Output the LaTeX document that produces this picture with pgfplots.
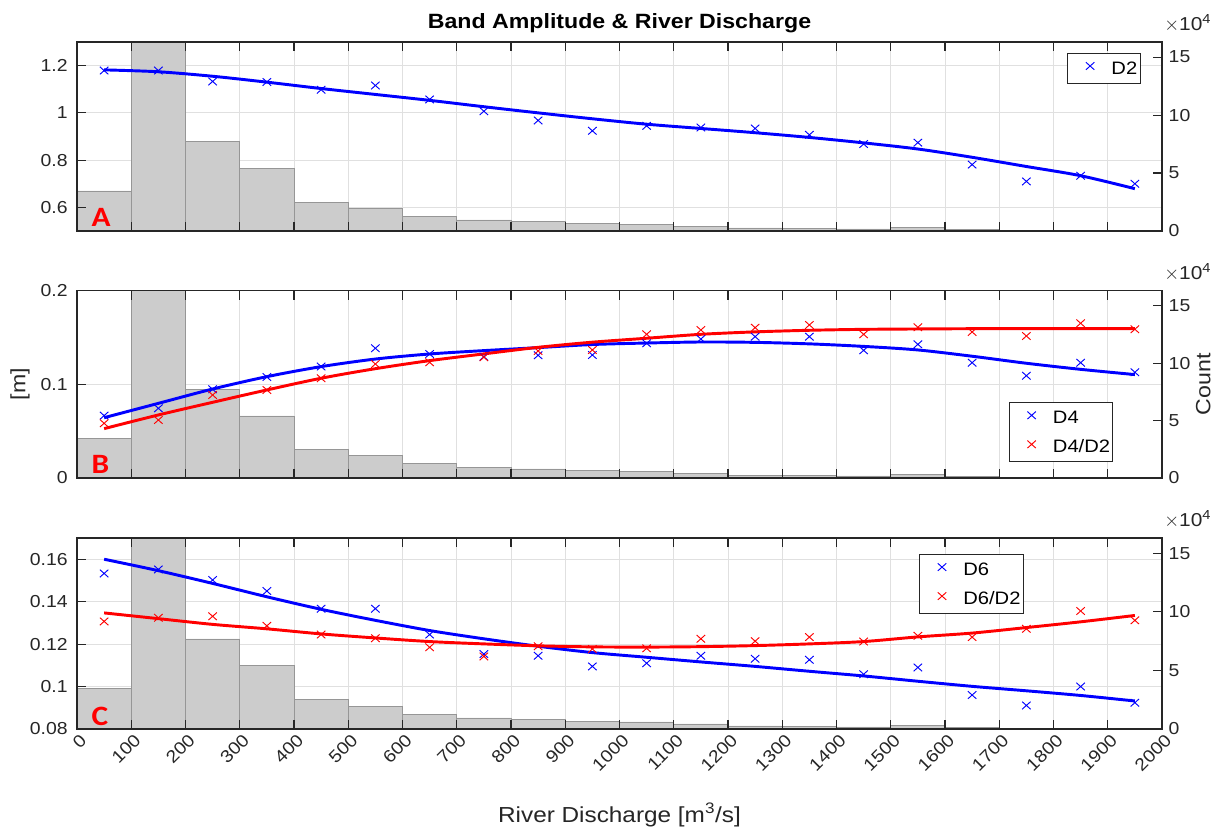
\documentclass[border=0pt]{standalone}
\usepackage{fontspec}
\setmainfont{Liberation Sans}[FakeStretch=1.12]
\newfontfamily\lettfont{Carlito}[FakeStretch=1.12]
\usepackage{pgfplots}
\usepackage{pgfplotstable}
\pgfplotsset{compat=1.18}
\definecolor{axgray}{RGB}{38,38,38}
\definecolor{histfill}{RGB}{204,204,204}
\definecolor{histedge}{RGB}{150,150,150}
\definecolor{gridc}{RGB}{224,224,224}
\definecolor{mblue}{RGB}{0,0,255}
\definecolor{mred}{RGB}{255,0,0}

\pgfplotstableread{
x D2 D4 D4D2 D6 D6D2
50 1.179 0.0666 0.0584 0.1533 0.1307
150 1.179 0.0744 0.0619 0.1552 0.1324
250 1.133 0.0947 0.0886 0.1502 0.1331
350 1.131 0.1078 0.0940 0.1450 0.1286
450 1.098 0.1190 0.1065 0.1367 0.1245
550 1.116 0.1385 0.1217 0.1367 0.1228
650 1.057 0.1324 0.1235 0.1245 0.1185
750 1.007 0.1295 0.1289 0.1153 0.1142
850 0.968 0.1310 0.1356 0.1145 0.1190
950 0.924 0.1313 0.1367 0.1095 0.1177
1050 0.945 0.1438 0.1534 0.1110 0.1180
1150 0.938 0.1484 0.1580 0.1145 0.1225
1250 0.934 0.1509 0.1605 0.1131 0.1214
1350 0.907 0.1509 0.1634 0.1126 0.1233
1450 0.868 0.1363 0.1534 0.1058 0.1212
1550 0.874 0.1427 0.1609 0.1090 0.1239
1650 0.781 0.1231 0.1559 0.0960 0.1233
1750 0.710 0.1092 0.1516 0.0911 0.1272
1850 0.734 0.1231 0.1652 0.1000 0.1356
1950 0.700 0.1129 0.1588 0.0924 0.1312
}\marks

\pgfplotstableread{
x A B4 B42 C6 C62
50 1.182 0.0644 0.0527 0.1600 0.1347
150 1.174 0.0797 0.0673 0.1546 0.1320
250 1.155 0.0950 0.0808 0.1486 0.1293
350 1.130 0.1082 0.0940 0.1423 0.1272
450 1.103 0.1189 0.1065 0.1364 0.1248
550 1.078 0.1270 0.1167 0.1312 0.1229
650 1.053 0.1324 0.1253 0.1264 0.1212
750 1.026 0.1360 0.1325 0.1225 0.1201
850 1.000 0.1392 0.1395 0.1190 0.1192
950 0.975 0.1425 0.1450 0.1160 0.1187
1050 0.952 0.1441 0.1492 0.1138 0.1186
1150 0.934 0.1452 0.1534 0.1116 0.1188
1250 0.916 0.1448 0.1560 0.1095 0.1193
1350 0.896 0.1432 0.1577 0.1072 0.1201
1450 0.873 0.1405 0.1587 0.1050 0.1212
1550 0.847 0.1367 0.1591 0.1025 0.1234
1650 0.812 0.1300 0.1594 0.1001 0.1252
1750 0.773 0.1225 0.1595 0.0980 0.1278
1850 0.734 0.1160 0.1595 0.0958 0.1305
1950 0.679 0.1104 0.1595 0.0932 0.1335
}\fits

\pgfplotstableread{
x count
0 34500
100 250000
200 77000
300 54000
400 25000
500 19600
600 12400
700 9500
800 8000
900 6500
1000 6000
1100 4300
1200 2600
1300 2400
1400 1800
1500 3200
1600 1400
1700 600
1800 500
1900 300
2000 300
}\hist

\pgfplotsset{
  base/.style={scale only axis, width=813.75pt, xmin=0, xmax=2000,
    xtick={0,100,...,2000},
    /pgf/number format/assume math mode=true,
    /pgf/number format/set thousands separator={},
    tick label style={font=\fontsize{13}{15}\selectfont, color=axgray},
    major tick length=7pt, tick align=inside, scaled ticks=false},
  gridax/.style={base, grid=major, major grid style={gridc, line width=0.6pt},
    axis line style={draw=none}, tick style={draw=none},
    xticklabels={}, yticklabels={}},
  histax/.style={base, ymin=0, ymax=163000, ytick={0,50000,100000,150000},
    axis x line=none, axis y line*=right,
    axis line style={axgray, line width=0.8pt}, tick style={axgray, line width=0.8pt},
    scaled y ticks=base 10:-4,
    yticklabel style={/pgf/number format/fixed, xshift=1.5pt},
    ytick scale label code/.code={$\times$10\textsuperscript{4}},
    every y tick scale label/.style={at={(axis description cs:1,1)}, anchor=south west,
      inner sep=0pt, yshift=7pt, font=\fontsize{14}{16}\selectfont, color=axgray}},
  dataax/.style={base, axis line style={axgray, line width=0.8pt},
    tick style={axgray, line width=0.8pt}, xtick pos=both, ytick pos=left,
    yticklabel style={/pgf/number format/fixed, /pgf/number format/precision=2, xshift=-3.5pt},
    legend cell align=left,
    legend image code/.code={\path[draw=none, fill=none] (0pt,-3pt) rectangle (31pt,10pt);
      \draw[##1] plot coordinates {(17pt,2.5pt)};},
    legend style={draw=axgray, line width=0.6pt, fill=white,
      font=\fontsize{13.5}{15}\selectfont, inner xsep=0pt, inner ysep=2pt,
      row sep=3.25pt, nodes={inner sep=2pt, text height=10pt, text depth=3pt}}},
  mk/.style={only marks, mark=x, mark size=4pt, line width=0.7pt,
    mark options={xscale=1.12}},
  fit/.style={line width=2.2pt, smooth, forget plot},
  hb/.style={ybar interval, fill=histfill, draw=histedge, line width=0.4pt},
}

\begin{document}
\begin{tikzpicture}
\path[use as bounding box] (0,0) rectangle (921.75pt,621.75pt);

% ---------------- Panel A ----------------
\begin{axis}[gridax, at={(57.75pt,448.5pt)}, anchor=south west, height=141.75pt,
  ymin=0.5, ymax=1.3, ytick={0.6,0.8,1,1.2}]
\end{axis}
\begin{axis}[histax, at={(57.75pt,448.5pt)}, anchor=south west, height=141.75pt]
\addplot[hb] table[x=x, y=count]{\hist};
\end{axis}
\begin{axis}[dataax, at={(57.75pt,448.5pt)}, anchor=south west, height=141.75pt,
  ymin=0.5, ymax=1.3, ytick={0.6,0.8,1,1.2}, xticklabels={},
  title={\bfseries Band Amplitude \& River Discharge},
  title style={at={(axis description cs:0.5,1)}, anchor=base, yshift=4pt,
    font=\fontsize{15.5}{18}\selectfont, color=black},
  legend style={at={(axis description cs:0.98,0.942)}, anchor=north east}]
\addplot[mk, mblue] table[x=x, y=D2]{\marks};
\addlegendentry{D2}
\addplot[fit, mblue] table[x=x, y=A]{\fits};
\node[anchor=base west, text=red, font=\lettfont\bfseries\fontsize{21}{21}\selectfont,
  xshift=7.5pt, yshift=3pt] at (axis description cs:0,0) {A};
\end{axis}

% ---------------- Panel B ----------------
\begin{axis}[gridax, at={(57.75pt,263.25pt)}, anchor=south west, height=140.5pt,
  ymin=0, ymax=0.2, ytick={0,0.1,0.2}]
\end{axis}
\begin{axis}[histax, at={(57.75pt,263.25pt)}, anchor=south west, height=140.5pt,
  ylabel={Count},
  ylabel style={at={(axis description cs:1.038,0.5)}, rotate=0, anchor=center,
    font=\fontsize{15.5}{18}\selectfont, color=axgray}]
\addplot[hb] table[x=x, y=count]{\hist};
\end{axis}
\begin{axis}[dataax, at={(57.75pt,263.25pt)}, anchor=south west, height=140.5pt,
  ymin=0, ymax=0.2, ytick={0,0.1,0.2}, xticklabels={},
  ylabel={[m]},
  ylabel style={at={(axis description cs:-0.0525,0.5)}, anchor=center,
    font=\fontsize{15.5}{18}\selectfont, color=axgray},
  legend style={at={(axis description cs:0.955,0.085)}, anchor=south east}]
\addplot[mk, mblue] table[x=x, y=D4]{\marks};
\addlegendentry{D4}
\addplot[mk, mred] table[x=x, y=D4D2]{\marks};
\addlegendentry{D4/D2}
\addplot[fit, mblue] table[x=x, y=B4]{\fits};
\addplot[fit, mred] table[x=x, y=B42]{\fits};
\node[anchor=base west, text=red, font=\lettfont\bfseries\fontsize{21}{21}\selectfont,
  xshift=7.5pt, yshift=3pt] at (axis description cs:0,0) {B};
\end{axis}

% ---------------- Panel C ----------------
\begin{axis}[gridax, at={(57.75pt,75pt)}, anchor=south west, height=143.25pt,
  ymin=0.08, ymax=0.17, ytick={0.08,0.1,0.12,0.14,0.16}]
\end{axis}
\begin{axis}[histax, at={(57.75pt,75pt)}, anchor=south west, height=143.25pt]
\addplot[hb] table[x=x, y=count]{\hist};
\end{axis}
\begin{axis}[dataax, at={(57.75pt,75pt)}, anchor=south west, height=143.25pt,
  ymin=0.08, ymax=0.17, ytick={0.08,0.1,0.12,0.14,0.16},
  xticklabel style={rotate=45, anchor=north east, inner sep=1pt, yshift=-2pt},
  xlabel={River Discharge [m\textsuperscript{3}/s]},
  xlabel style={at={(axis description cs:0.5,0)}, anchor=base, yshift=-69.75pt,
    font=\fontsize{16.3}{19}\selectfont, color=axgray},
  legend style={at={(axis description cs:0.776,0.916)}, anchor=north west}]
\addplot[mk, mblue] table[x=x, y=D6]{\marks};
\addlegendentry{D6}
\addplot[mk, mred] table[x=x, y=D6D2]{\marks};
\addlegendentry{D6/D2}
\addplot[fit, mblue] table[x=x, y=C6]{\fits};
\addplot[fit, mred] table[x=x, y=C62]{\fits};
\node[anchor=base west, text=red, font=\lettfont\bfseries\fontsize{21}{21}\selectfont,
  xshift=7.5pt, yshift=3pt] at (axis description cs:0,0) {C};
\end{axis}
\end{tikzpicture}
\end{document}
